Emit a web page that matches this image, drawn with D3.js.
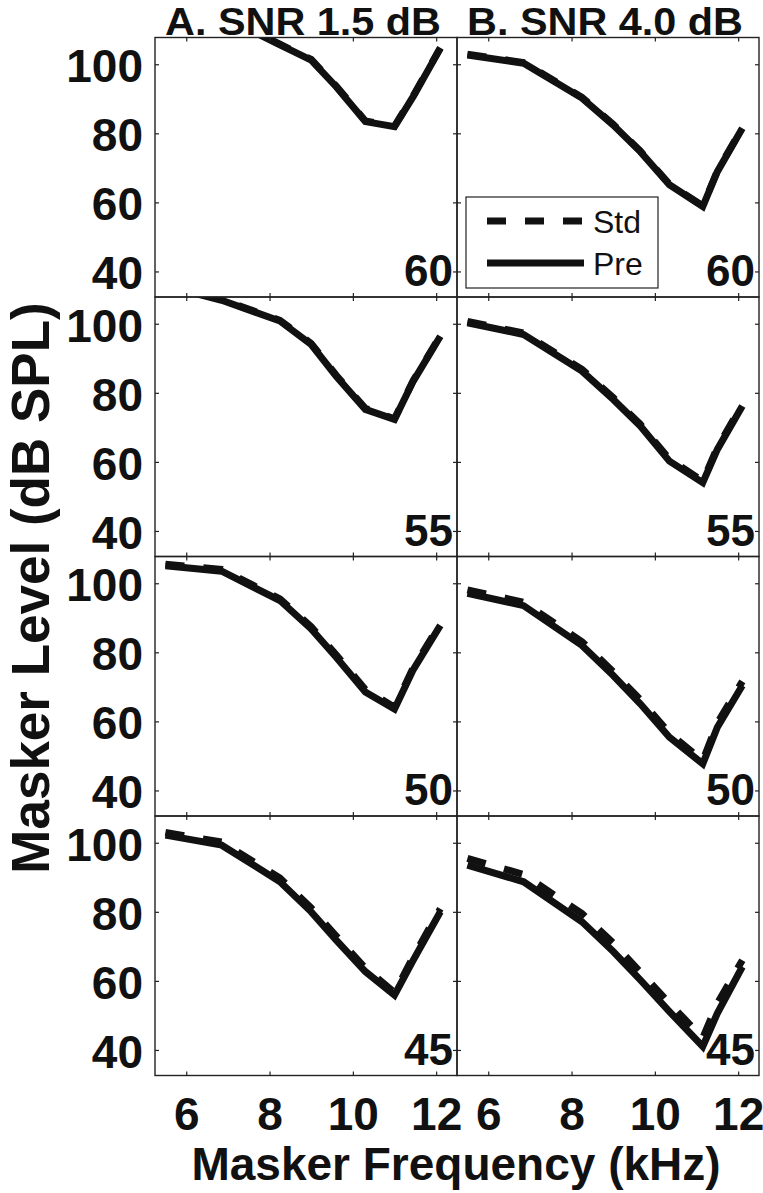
<!DOCTYPE html>
<html>
<head>
<meta charset="utf-8">
<script src="https://cdn.jsdelivr.net/npm/d3@7/dist/d3.min.js"></script>
<style>
  body { margin: 0; background: #fff; }
  svg { display: block; }
  text { font-family: "Liberation Sans", Arial, Helvetica, sans-serif; fill: #111; }
</style>
</head>
<body>
<svg id="chart" width="763" height="1193"></svg>
<script>
// masker frequencies (kHz) for each SNR column
var freqA = [5.5, 6.85, 8.25, 9.0, 9.6, 10.3, 11.0, 11.45, 12.1]
var freqB = [5.5, 6.85, 8.25, 9.0, 9.65, 10.35, 11.15, 11.5, 12.1]

// probe levels, one row of panels each
var levels = [60, 55, 50, 45]
var titles = ['A. SNR 1.5 dB', 'B. SNR 4.0 dB']

// masker level (dB SPL), rows follow levels
var stdA = [
    [117, 114, 105.8, 101.4, 93.7, 83.6, 82.1, 90.9, 104.8],
    [111.2, 107, 101, 94.3, 85.1, 75.5, 72.5, 83.6, 96.6],
    [105.5, 104, 95.5, 87.4, 79.3, 69.2, 64.1, 75.6, 88.3],
    [103, 100.2, 89.8, 81.1, 73, 63.7, 56.6, 67, 80.9]
]
var preA = [
    [117, 114, 105.6, 101.2, 93.5, 83.4, 81.9, 90.7, 104.6],
    [111, 106.8, 100.8, 94, 84.8, 75.2, 72.3, 83.4, 96.4],
    [105.1, 103.5, 95, 86.8, 78.6, 68.5, 63.6, 75, 87.8],
    [102.2, 99.3, 88.7, 80, 71.8, 62.7, 55.9, 66, 80]
]
var stdB = [
    [102.9, 100.5, 90.4, 82.6, 74.9, 65.3, 59, 69.1, 81.7],
    [100.7, 97.3, 86.8, 78.6, 70.9, 60.8, 54.4, 64.2, 76.7],
    [98.1, 94.5, 83.1, 74.4, 66.3, 56.6, 48.6, 59.5, 71.6],
    [95.5, 90.8, 79.5, 71, 62.6, 53.5, 43.5, 53.5, 66]
]
var preB = [
    [102.7, 100.3, 90.2, 82.4, 74.7, 65.1, 58.8, 68.9, 81.5],
    [100.3, 96.9, 86.3, 78.1, 70.4, 60.2, 54, 63.6, 76.2],
    [97.1, 93.5, 82, 73.3, 65.1, 55.4, 47.7, 58.3, 70.4],
    [93.5, 88.7, 77.1, 68.5, 60.3, 51.1, 41, 50.6, 64.1]
]

var yTicks = [40, 60, 80, 100]
var xTicks = [6, 8, 10, 12]

var svg = d3.select('#chart')
var colX = [155, 457]
var top0 = 37.5
var pw = 302, ph = 259.5

var x = d3.scaleLinear().domain([5.25, 12.5]).range([0, pw])
var y = d3.scaleLinear().domain([32.6, 107.75]).range([ph, 0])

var columns = [
    { freq: freqA, std: stdA, pre: preA },
    { freq: freqB, std: stdB, pre: preB }
]

var line = d3.line()
    .x(function(d) { return x(d[0]) })
    .y(function(d) { return y(d[1]) })

var defs = svg.append('defs')
defs.append('clipPath').attr('id', 'panelClip')
    .append('rect').attr('width', pw).attr('height', ph)

columns.forEach(function(col, c) {
    levels.forEach(function(lev, r) {
        var g = svg.append('g')
            .attr('transform', 'translate(' + colX[c] + ',' + (top0 + r * ph) + ')')

        var plot = g.append('g').attr('clip-path', 'url(#panelClip)')
        var preData = col.freq.map(function(f, i) { return [f, col.pre[r][i]] })
        var stdData = col.freq.map(function(f, i) { return [f, col.std[r][i]] })

        plot.append('path')
            .attr('d', line(preData))
            .attr('fill', 'none')
            .attr('stroke', '#111')
            .attr('stroke-width', 7)
            .attr('stroke-linejoin', 'miter')

        plot.append('path')
            .attr('d', line(stdData))
            .attr('fill', 'none')
            .attr('stroke', '#111')
            .attr('stroke-width', 7)
            .attr('stroke-dasharray', '19,19')

        // inward ticks on all four sides
        var left = g.append('g').call(d3.axisLeft(y).tickValues(yTicks).tickSizeInner(-4).tickSizeOuter(0).tickPadding(12))
        var right = g.append('g').attr('transform', 'translate(' + pw + ',0)')
            .call(d3.axisRight(y).tickValues(yTicks).tickSizeInner(-4).tickSizeOuter(0).tickFormat(''))
        var topAx = g.append('g')
            .call(d3.axisTop(x).tickValues(xTicks).tickSizeInner(-4).tickSizeOuter(0).tickFormat(''))
        var bottom = g.append('g').attr('transform', 'translate(0,' + ph + ')')
            .call(d3.axisBottom(x).tickValues(xTicks).tickSizeInner(-4).tickSizeOuter(0).tickPadding(20))

        ;[left, right, topAx, bottom].forEach(function(a) {
            a.select('.domain').remove()
            a.selectAll('line').attr('stroke', '#222').attr('stroke-width', 1.2)
        })

        left.selectAll('text')
            .attr('font-size', 46).attr('font-weight', 'bold').attr('fill', '#111')
            .attr('font-family', '"Liberation Sans", Arial, sans-serif')
            .attr('dy', '0.38em')
        if (c !== 0) left.selectAll('text').remove()

        bottom.selectAll('text')
            .attr('font-size', 46).attr('font-weight', 'bold').attr('fill', '#111')
            .attr('font-family', '"Liberation Sans", Arial, sans-serif')
            .attr('dy', '0.74em')
        if (r !== levels.length - 1) bottom.selectAll('text').remove()

        g.append('rect')
            .attr('width', pw).attr('height', ph)
            .attr('fill', 'none')
            .attr('stroke', '#222')
            .attr('stroke-width', 1.4)

        g.append('text')
            .attr('x', pw - 4)
            .attr('y', ph - 11)
            .attr('text-anchor', 'end')
            .attr('font-size', 44)
            .attr('font-weight', 'bold')
            .text(lev)
    })

    svg.append('text')
        .attr('x', colX[c] + pw / 2 - 3)
        .attr('y', 34.5)
        .attr('text-anchor', 'middle')
        .attr('font-size', 38)
        .attr('font-weight', 'bold')
        .attr('textLength', 276)
        .attr('lengthAdjust', 'spacingAndGlyphs')
        .text(titles[c])
})

// legend, top right panel
var lg = svg.append('g').attr('transform', 'translate(466,197)')
lg.append('rect').attr('width', 192).attr('height', 91)
    .attr('fill', '#fff').attr('stroke', '#222').attr('stroke-width', 1.2)
var legendItems = [{ name: 'Std', dash: '19,19' }, { name: 'Pre', dash: null }]
legendItems.forEach(function(d, i) {
    var yy = 24 + i * 42
    lg.append('line')
        .attr('x1', 21).attr('x2', 118).attr('y1', yy).attr('y2', yy)
        .attr('stroke', '#111').attr('stroke-width', 7)
        .attr('stroke-dasharray', d.dash)
    lg.append('text')
        .attr('x', 127).attr('y', yy + 12)
        .attr('font-size', 32)
        .text(d.name)
})

svg.append('text')
    .attr('x', 456)
    .attr('y', 1180)
    .attr('text-anchor', 'middle')
    .attr('font-size', 46)
    .attr('font-weight', 'bold')
    .text('Masker Frequency (kHz)')

svg.append('text')
    .attr('transform', 'translate(49,588) rotate(-90)')
    .attr('text-anchor', 'middle')
    .attr('font-size', 53)
    .attr('font-weight', 'bold')
    .text('Masker Level (dB SPL)')
</script>
</body>
</html>
